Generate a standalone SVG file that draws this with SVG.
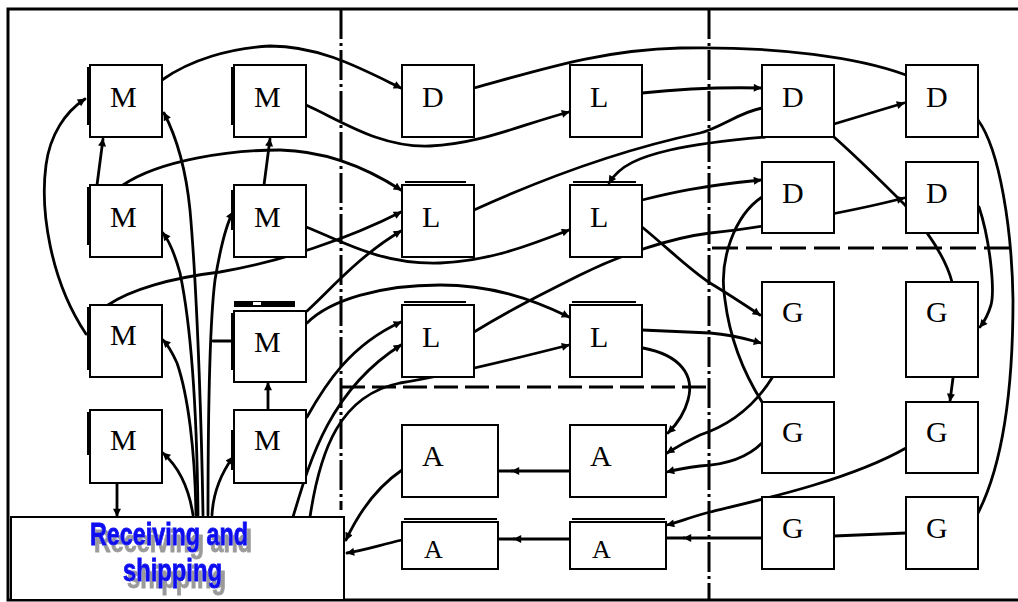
<svg xmlns="http://www.w3.org/2000/svg" width="1018" height="602" viewBox="0 0 1018 602">
<style>
.box{fill:#fff;stroke:#000;stroke-width:2}
.lbl{font-family:"Liberation Serif","Times New Roman",serif;font-size:30px;fill:#000}
.sm{font-size:26px}
.c{fill:none;stroke:#000;stroke-width:2.8;stroke-linecap:round}
.a{marker-end:url(#ah)}
.edge{fill:none;stroke:#000;stroke-width:2}
.dsh{fill:none;stroke:#000;stroke-width:3}
.rs{font-family:"Liberation Sans",Arial,sans-serif;font-weight:bold;font-size:31px;fill:#0a0af0;stroke:#0a0af0;stroke-width:0.9}
</style>
<defs>
<marker id="ah" viewBox="0 0 10 10" refX="9" refY="5" markerWidth="11" markerHeight="8" orient="auto" markerUnits="userSpaceOnUse">
<path d="M0,0 L10,5 L0,10 z" fill="#000"/>
</marker>
<filter id="shadow" x="-10%" y="-20%" width="130%" height="160%">
<feDropShadow dx="4" dy="7" stdDeviation="0.6" flood-color="#9a9a9a" flood-opacity="1"/>
</filter>
</defs>
<rect width="1018" height="602" fill="#fff"/>
<g id="frame">
<path class="dsh" d="M1018,9 H8 V600 H1018"/>
<path class="dsh" d="M341,9 V510" stroke-dasharray="30 4 3 4"/>
<path class="dsh" d="M709,9 V600" stroke-dasharray="30 4 3 4"/>
<path class="dsh" d="M341,387 H709" stroke-dasharray="24 7"/>
<path class="dsh" d="M712,248 H1018" stroke-dasharray="26 8"/>
</g>
<g id="connectors">
<path class="c a" d="M86,334 C50,280 40,210 46,165 C50,135 65,112 85,99"/>
<path class="c a" d="M97,185 L103,139"/>
<path class="c a" d="M264,185 L270,139"/>
<path class="c a" d="M162,80 C190,60 230,48 270,46 C320,46 360,68 401,88"/>
<path class="c a" d="M306,105 C340,120 380,148 430,146 C480,144 520,125 569,112"/>
<path class="c a" d="M123,185 C160,160 230,150 280,150 C330,151 370,170 401,190"/>
<path class="c a" d="M306,227 C340,240 380,265 440,263 C490,261 530,245 569,230"/>
<path class="c a" d="M108,305 C130,290 170,278 220,272 C280,262 350,238 401,212"/>
<path class="c a" d="M307,311 C330,290 360,255 401,231"/>
<path class="c a" d="M307,323 C330,300 380,285 440,285 C490,285 530,298 569,317"/>
<path class="c a" d="M307,417 C325,385 350,345 401,322"/>
<path class="c a" d="M293,517 C310,460 330,390 401,345"/>
<path class="c a" d="M310,517 C320,450 340,395 400,383 C450,375 510,360 569,345"/>
<path class="c a" d="M402,470 C380,485 360,510 346,540"/>
<path class="c a" d="M402,540 C380,545 365,550 347,553"/>
<path class="c a" d="M570,471 L512,471"/>
<path class="c" d="M512,471 L498,471"/>
<path class="c a" d="M570,539 L514,539"/>
<path class="c" d="M514,539 L498,539"/>
<path class="c a" d="M762,538 L684,538"/>
<path class="c" d="M684,538 L666,538"/>
<path class="c a" d="M906,448 C850,480 760,500 710,512 C690,517 680,522 667,525"/>
<path class="c a" d="M762,443 C745,460 720,465 700,466 C685,468 675,470 667,472"/>
<path class="c a" d="M772,378 C755,405 730,425 700,435 C685,442 675,448 667,453"/>
<path class="c a" d="M643,348 C680,355 695,375 688,400 C684,415 676,425 668,433"/>
<path class="c a" d="M642,330 L710,333 C735,335 750,340 761,343" stroke-width="4"/>
<path class="c a" d="M642,227 C670,250 690,270 710,283 C730,295 745,305 760,315"/>
<path class="c a" d="M642,200 C670,193 700,186 761,180"/>
<path class="c" d="M474,210 C540,180 620,150 700,133 C720,128 740,112 762,108"/>
<path class="c a" d="M642,93 C680,89 720,87 761,88"/>
<path class="c" d="M474,88 C540,70 600,50 680,48 C780,46 860,58 906,75"/>
<path class="c a" d="M765,137 C730,140 700,143 670,150 C640,157 620,165 609,183"/>
<path class="c a" d="M834,124 L904,103"/>
<path class="c" d="M834,137 C860,160 885,185 905,205 C925,228 945,255 952,282"/>
<path class="c a" d="M474,332 C510,310 540,295 580,275 C620,255 670,238 710,233 C760,228 850,212 904,198"/>
<path class="c" d="M762,197 C735,215 718,260 725,300 C730,340 745,375 762,402"/>
<path class="c" d="M978,120 C1000,150 1012,230 1013,300 C1013,400 1000,470 978,513"/>
<path class="c a" d="M979,207 C990,240 995,290 991,305 C988,315 984,322 980,327"/>
<path class="c a" d="M953,378 L950,401"/>
<path class="c" d="M906,533 L834,536"/>
<path class="c a" d="M203,515 C202,450 198,300 190,210 C186,170 178,140 164,113"/>
<path class="c a" d="M198,515 C197,420 192,330 180,273 C175,255 170,242 163,233"/>
<path class="c a" d="M208,515 C208,420 210,320 215,280 C220,250 226,225 233,212"/>
<path class="c" d="M213,341 L234,341" stroke-width="4"/>
<path class="c a" d="M196,515 C195,450 188,395 177,363 C172,352 168,345 163,340"/>
<path class="c a" d="M193,515 C190,495 182,470 163,453"/>
<path class="c a" d="M212,515 C213,495 220,475 233,457"/>
<path class="c a" d="M117,483 L117,516"/>
<path class="c a" d="M268,410 L268,383"/>
</g>
<g id="M1"><path class="edge" d="M88,67 V125"/><rect class="box" x="90" y="65" width="72" height="72"/><text class="lbl" x="110" y="107">M</text></g>
<g id="M2"><path class="edge" d="M232,67 V125"/><rect class="box" x="234" y="65" width="72" height="72"/><text class="lbl" x="254" y="107">M</text></g>
<g id="M3"><path class="edge" d="M88,187 V245"/><rect class="box" x="90" y="185" width="72" height="72"/><text class="lbl" x="110" y="227">M</text></g>
<g id="M4"><path class="edge" d="M232,190 V230"/><rect class="box" x="234" y="185" width="72" height="72"/><text class="lbl" x="254" y="227">M</text></g>
<g id="M5"><path class="edge" d="M88,307 V370"/><rect class="box" x="90" y="305" width="72" height="72"/><text class="lbl" x="110" y="345">M</text></g>
<g id="M6"><rect x="234" y="301" width="61" height="6" fill="#000"/><rect x="253" y="302" width="8" height="3" fill="#fff"/><path class="edge" d="M232,313 V370"/><rect class="box" x="234" y="311" width="72" height="71"/><text class="lbl" x="254" y="352">M</text></g>
<g id="M7"><path class="edge" d="M88,412 V455"/><rect class="box" x="90" y="410" width="72" height="73"/><text class="lbl" x="110" y="450">M</text></g>
<g id="M8"><path class="edge" d="M232,430 V470"/><rect class="box" x="234" y="410" width="72" height="73"/><text class="lbl" x="254" y="450">M</text></g>
<g id="D1"><rect class="box" x="402" y="65" width="72" height="72"/><text class="lbl" x="422" y="107">D</text></g>
<g id="L1"><rect class="box" x="570" y="65" width="72" height="72"/><text class="lbl" x="590" y="107">L</text></g>
<g id="L2"><path class="edge" d="M405,182 H466" stroke-width="3"/><rect class="box" x="402" y="185" width="72" height="72"/><text class="lbl" x="422" y="227">L</text></g>
<g id="L3"><path class="edge" d="M573,182 H636" stroke-width="3"/><rect class="box" x="570" y="185" width="72" height="72"/><text class="lbl" x="590" y="227">L</text></g>
<g id="L4"><path class="edge" d="M404,302 H466" stroke-width="3"/><rect class="box" x="402" y="305" width="72" height="72"/><text class="lbl" x="422" y="347">L</text></g>
<g id="L5"><path class="edge" d="M572,302 H636" stroke-width="3"/><rect class="box" x="570" y="305" width="72" height="72"/><text class="lbl" x="590" y="347">L</text></g>
<g id="A1"><rect class="box" x="402" y="425" width="96" height="72"/><text class="lbl" x="422" y="466">A</text></g>
<g id="A2"><rect class="box" x="570" y="425" width="96" height="72"/><text class="lbl" x="590" y="466">A</text></g>
<g id="A3"><path class="edge" d="M404,519 H497"/><rect class="box" x="402" y="522" width="96" height="47"/><text class="lbl sm" x="424" y="558">A</text></g>
<g id="A4"><path class="edge" d="M572,519 H665"/><rect class="box" x="570" y="522" width="96" height="47"/><text class="lbl sm" x="592" y="558">A</text></g>
<g id="D3"><rect class="box" x="762" y="65" width="72" height="72"/><text class="lbl" x="782" y="107">D</text></g>
<g id="D4"><rect class="box" x="906" y="65" width="72" height="72"/><text class="lbl" x="926" y="107">D</text></g>
<g id="D5"><rect class="box" x="762" y="162" width="72" height="71"/><text class="lbl" x="782" y="203">D</text></g>
<g id="D6"><rect class="box" x="906" y="162" width="72" height="71"/><text class="lbl" x="926" y="203">D</text></g>
<g id="G1"><rect class="box" x="762" y="282" width="72" height="95"/><text class="lbl" x="782" y="322">G</text></g>
<g id="G2"><rect class="box" x="906" y="282" width="72" height="95"/><text class="lbl" x="926" y="322">G</text></g>
<g id="G3"><rect class="box" x="762" y="402" width="72" height="71"/><text class="lbl" x="782" y="442">G</text></g>
<g id="G4"><rect class="box" x="906" y="402" width="72" height="71"/><text class="lbl" x="926" y="442">G</text></g>
<g id="G5"><rect class="box" x="762" y="497" width="72" height="72"/><text class="lbl" x="782" y="538">G</text></g>
<g id="G6"><rect class="box" x="906" y="497" width="72" height="72"/><text class="lbl" x="926" y="538">G</text></g>
<g id="receiving">
<rect class="box" x="11" y="517" width="333" height="83"/>
<g filter="url(#shadow)">
<text class="rs" x="90" y="545" textLength="158" lengthAdjust="spacingAndGlyphs">Receiving and</text>
<text class="rs" x="123" y="581" textLength="99" lengthAdjust="spacingAndGlyphs">shipping</text>
</g>
</g>
</svg>
